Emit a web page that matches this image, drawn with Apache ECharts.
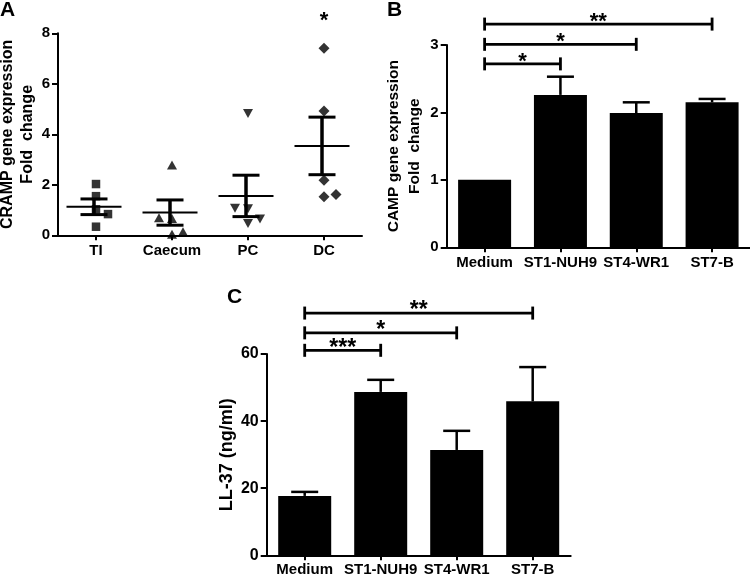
<!DOCTYPE html>
<html>
<head>
<meta charset="utf-8">
<script src="https://cdn.jsdelivr.net/npm/echarts@6/dist/echarts.min.js"></script>
<style>
html,body{margin:0;padding:0;background:#fff;}
#chart{width:750px;height:576px;}
</style>
</head>
<body>
<div id="chart"></div>
<script>
// ---------- Panel A data ----------
const catsA = ['TI', 'Caecum', 'PC', 'DC'];
const tiValues = [2.03, 1.55, 1.03, 0.84, 0.34];
const caecumValues = [2.78, 0.70, 0.67, 0.04, 0.14];
const pcValues = [4.82, 1.07, 1.05, 0.47, 0.65];
const dcValues = [7.41, 4.92, 2.18, 1.53, 1.62];
const meanA = [1.13, 0.90, 1.56, 3.54];
const semA = [0.31, 0.50, 0.82, 1.14];
const sigA = ['', '', '', '*'];
const ticksA = [0, 2, 4, 6, 8];

// ---------- Panel B data ----------
const catsB = ['Medium', 'ST1-NUH9', 'ST4-WR1', 'ST7-B'];
const valuesB = [1.0, 2.26, 1.99, 2.15];
const errTopB = [1.0, 2.53, 2.15, 2.20];
const bracketToB = [1, 2, 3];
const bracketYB = [2.72, 3.01, 3.31];
const bracketLabelB = ['*', '*', '**'];

// ---------- Panel C data ----------
const catsC = ['Medium', 'ST1-NUH9', 'ST4-WR1', 'ST7-B'];
const valuesC = [17.7, 48.7, 31.4, 45.9];
const errTopC = [18.9, 52.3, 37.1, 56.1];
const bracketToC = [1, 2, 3];
const bracketYC = [61.1, 66.3, 72.2];
const bracketLabelC = ['***', '*', '**'];

// ---------- styles ----------
const FONT = 'Liberation Sans, Arial, Helvetica, sans-serif';
const jitterA = [[0, 0, 0, 12, 0], [0, -13, 0, 0, 11], [0, -13, 0, 0, 12], [0, 0, 0, 0, 12]];

function scatterSeries(vals, gi, symbol, size, rotate) {
  return {
    type: 'scatter', xAxisIndex: 0, yAxisIndex: 0,
    symbol: symbol, symbolSize: size, symbolRotate: rotate || 0,
    itemStyle: { color: '#000' },
    data: vals.map((v, i) => ({ value: [gi, v], symbolOffset: [jitterA[gi][i], 0] })),
    z: 3
  };
}

function errorSeries(ax, tops, errs, capHalf, lw) {
  return {
    type: 'custom', xAxisIndex: ax, yAxisIndex: ax, clip: false, z: 4,
    data: tops.map((t, i) => [i, t, errs[i]]),
    renderItem: function (params, api) {
      const i = api.value(0);
      const p1 = api.coord([i, api.value(1)]);
      const p2 = api.coord([i, api.value(2)]);
      if (Math.abs(p1[1] - p2[1]) < 0.5) return null;
      return {
        type: 'group', children: [
          { type: 'line', shape: { x1: p1[0], y1: p1[1], x2: p2[0], y2: p2[1] }, style: { stroke: '#000', lineWidth: lw } },
          { type: 'line', shape: { x1: p2[0] - capHalf, y1: p2[1], x2: p2[0] + capHalf, y2: p2[1] }, style: { stroke: '#000', lineWidth: lw } }
        ]
      };
    }
  };
}

function bracketSeries(ax, tos, ys, labels, fontSize, textDy) {
  return {
    type: 'custom', xAxisIndex: ax, yAxisIndex: ax, clip: false, z: 5,
    data: tos.map((t, i) => [0, t, ys[i]]),
    renderItem: function (params, api) {
      const a = api.coord([api.value(0), api.value(2)]);
      const b = api.coord([api.value(1), api.value(2)]);
      const y = a[1];
      return {
        type: 'group', children: [
          { type: 'line', shape: { x1: a[0], y1: y, x2: b[0], y2: y }, style: { stroke: '#000', lineWidth: 2.8 } },
          { type: 'line', shape: { x1: a[0], y1: y - 6.5, x2: a[0], y2: y + 6.5 }, style: { stroke: '#000', lineWidth: 2.8 } },
          { type: 'line', shape: { x1: b[0], y1: y - 6.5, x2: b[0], y2: y + 6.5 }, style: { stroke: '#000', lineWidth: 2.8 } },
          { type: 'text', style: { text: labels[params.dataIndex], x: (a[0] + b[0]) / 2, y: y + textDy, align: 'center', verticalAlign: 'middle', fontSize: fontSize, fontWeight: 'bold', fontFamily: FONT, fill: '#000' } }
        ]
      };
    }
  };
}

function xAx(gi, cats, fs, margin) {
  return {
    type: 'category', gridIndex: gi, data: cats, boundaryGap: true,
    axisLine: { show: true, lineStyle: { color: '#000', width: 2 } },
    axisTick: { show: true, alignWithLabel: true, length: 5, lineStyle: { color: '#000', width: 2 } },
    axisLabel: { color: '#000', fontSize: fs, fontWeight: 'bold', fontFamily: FONT, margin: margin, interval: 0 },
    splitLine: { show: false }
  };
}
function yAx(gi, min, max, interval, name, nameGap, nameSize, labelSize, lineH) {
  return {
    type: 'value', gridIndex: gi, min: min, max: max, interval: interval,
    name: name, nameLocation: 'middle', nameRotate: 90, nameGap: nameGap,
    nameTextStyle: { color: '#000', fontSize: nameSize, fontWeight: 'bold', fontFamily: FONT, lineHeight: lineH },
    axisLine: { show: true, lineStyle: { color: '#000', width: 2 } },
    axisTick: { show: true, length: 6, lineStyle: { color: '#000', width: 2 } },
    axisLabel: { color: '#000', fontSize: labelSize, fontWeight: 'bold', fontFamily: FONT, margin: 8 },
    splitLine: { show: false }
  };
}

const chart = echarts.init(document.getElementById('chart'), null, { renderer: 'canvas' });
const option = {
  animation: false,
  backgroundColor: '#fff',
  title: [
    { text: 'A', left: 0, top: 0, padding: 0, textStyle: { fontSize: 21, fontWeight: 'bold', fontFamily: FONT, color: '#000' } },
    { text: 'B', left: 387, top: 0, padding: 0, textStyle: { fontSize: 21, fontWeight: 'bold', fontFamily: FONT, color: '#000' } },
    { text: 'C', left: 227, top: 287, padding: 0, textStyle: { fontSize: 21, fontWeight: 'bold', fontFamily: FONT, color: '#000' } }
  ],
  grid: [
    { left: 58, top: 33.3, width: 304, height: 202, containLabel: false, outerBoundsMode: 'none' },
    { left: 446.7, top: 45, width: 303.3, height: 202.3, containLabel: false, outerBoundsMode: 'none' },
    { left: 266.7, top: 354, width: 304, height: 201.3, containLabel: false, outerBoundsMode: 'none' }
  ],
  xAxis: [xAx(0, catsA, 15, 8), xAx(1, catsB, 15, 8), xAx(2, catsC, 15, 7)],
  yAxis: [
    yAx(0, ticksA[0], ticksA[ticksA.length - 1], 2, 'CRAMP gene expression\nFold  change', 20, 16, 15, 20),
    yAx(1, 0, 3, 1, 'CAMP gene expression\nFold  change', 21, 15.5, 15, 21),
    yAx(2, 0, 60, 20, 'LL-37 (ng/ml)', 27, 18, 16, 20)
  ],
  series: [
    scatterSeries(tiValues, 0, 'rect', 8.5),
    scatterSeries(caecumValues, 1, 'triangle', [10, 9]),
    scatterSeries(pcValues, 2, 'triangle', [10, 9], 180),
    scatterSeries(dcValues, 3, 'diamond', [11, 11]),
    {
      type: 'custom', xAxisIndex: 0, yAxisIndex: 0, clip: false, z: 4,
      data: meanA.map((m, i) => [i, m, semA[i]]),
      renderItem: function (params, api) {
        const i = api.value(0), m = api.value(1), s = api.value(2);
        const pm = api.coord([i, m]);
        const pu = api.coord([i, m + s]);
        const pl = api.coord([i, m - s]);
        const cx = pm[0] - 2;
        const ch = [
          { type: 'line', shape: { x1: cx - 27.5, y1: pm[1], x2: cx + 27.5, y2: pm[1] }, style: { stroke: '#000', lineWidth: 2 } },
          { type: 'line', shape: { x1: cx, y1: pu[1], x2: cx, y2: pl[1] }, style: { stroke: '#000', lineWidth: 3.5 } },
          { type: 'line', shape: { x1: cx - 13.5, y1: pu[1], x2: cx + 13.5, y2: pu[1] }, style: { stroke: '#000', lineWidth: 3 } },
          { type: 'line', shape: { x1: cx - 13.5, y1: pl[1], x2: cx + 13.5, y2: pl[1] }, style: { stroke: '#000', lineWidth: 3 } }
        ];
        if (sigA[params.dataIndex]) {
          const ps = api.coord([i, 8.65]);
          ch.push({ type: 'text', style: { text: sigA[params.dataIndex], x: ps[0], y: ps[1] + 4, align: 'center', verticalAlign: 'middle', fontSize: 22, fontWeight: 'bold', fontFamily: FONT, fill: '#000' } });
        }
        return { type: 'group', children: ch };
      }
    },
    { type: 'bar', xAxisIndex: 1, yAxisIndex: 1, data: valuesB, barWidth: 53, itemStyle: { color: '#000' }, z: 2 },
    errorSeries(1, valuesB, errTopB, 13.5, 2.5),
    bracketSeries(1, bracketToB, bracketYB, bracketLabelB, 22, -2),
    { type: 'bar', xAxisIndex: 2, yAxisIndex: 2, data: valuesC, barWidth: 53, itemStyle: { color: '#000' }, z: 2 },
    errorSeries(2, valuesC, errTopC, 13.5, 2.5),
    bracketSeries(2, bracketToC, bracketYC, bracketLabelC, 23, -2)
  ]
};
chart.setOption(option);
</script>
</body>
</html>
